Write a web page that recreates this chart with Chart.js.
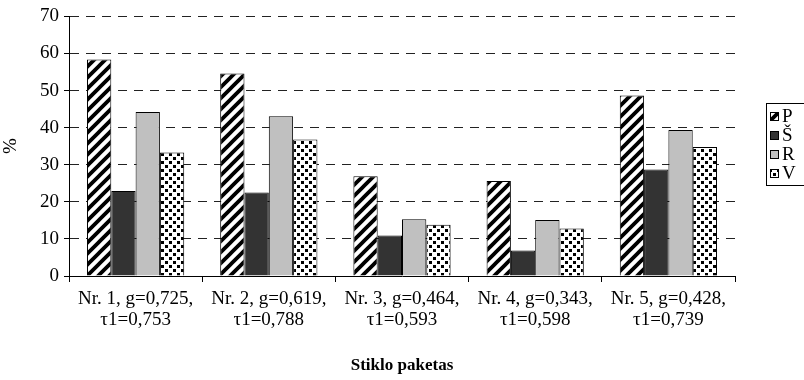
<!DOCTYPE html>
<html>
<head>
<meta charset="utf-8">
<script src="https://cdn.jsdelivr.net/npm/chart.js@4/dist/chart.umd.min.js"></script>
<style>
  html, body { margin: 0; padding: 0; background: #fff; }
  #wrap { width: 804px; height: 380px; }
</style>
</head>
<body>
<div id="wrap"><canvas id="miGrafica" width="804" height="380"></canvas></div>
<script>
// Kategorijos (stiklo paketai)
const kategorijos = [
    ['Nr. 1, g=0,725,', 'τ1=0,753'],
    ['Nr. 2, g=0,619,', 'τ1=0,788'],
    ['Nr. 3, g=0,464,', 'τ1=0,593'],
    ['Nr. 4, g=0,343,', 'τ1=0,598'],
    ['Nr. 5, g=0,428,', 'τ1=0,739']
];
const serijos = ['P', 'Š', 'R', 'V'];
const duomenysP = [58.4, 54.6, 26.9, 25.6, 48.7];
const duomenysS = [22.9, 22.5, 10.9, 6.9, 28.7];
const duomenysR = [44.2, 43.1, 15.3, 15.1, 39.4];
const duomenysV = [33.3, 36.8, 13.8, 12.8, 34.8];
const yTicks = [0, 10, 20, 30, 40, 50, 60, 70];

const SRIFTAS = '"Liberation Serif", "Times New Roman", serif';

// juostu rasto sablonai
function istrizas() {
    const c = document.createElement('canvas');
    c.width = 11; c.height = 11;
    const g = c.getContext('2d');
    g.fillStyle = '#fff'; g.fillRect(0, 0, 11, 11);
    g.strokeStyle = '#000'; g.lineWidth = 3.8;
    g.beginPath();
    g.moveTo(-2, 13); g.lineTo(13, -2);
    g.moveTo(-8, 8); g.lineTo(8, -8);
    g.moveTo(3, 19); g.lineTo(19, 3);
    g.stroke();
    return g.createPattern(c, 'repeat');
}
function taskuotas() {
    const c = document.createElement('canvas');
    c.width = 8; c.height = 8;
    const g = c.getContext('2d');
    g.fillStyle = '#fff'; g.fillRect(0, 0, 8, 8);
    g.fillStyle = '#000';
    g.fillRect(1, 1, 3, 3);
    g.fillRect(5, 5, 3, 3);
    return g.createPattern(c, 'repeat');
}

const ctx = document.getElementById('miGrafica').getContext('2d');
const spalvos = [istrizas(), '#333333', '#c0c0c0', taskuotas()];

// legenda su remeliu desineje
const legendaPlugin = {
    id: 'legenda',
    afterDraw(chart) {
        const c = chart.ctx;
        c.save();
        c.strokeStyle = '#000'; c.lineWidth = 1;
        c.strokeRect(766.5, 103.5, 60, 82);
        c.font = '19px ' + SRIFTAS;
        c.textBaseline = 'middle';
        chart.data.datasets.forEach((ds, i) => {
            const y = 116 + i * 19;
            c.fillStyle = ds.backgroundColor;
            c.fillRect(770, y - 4, 9, 9);
            c.strokeStyle = '#000';
            c.strokeRect(770.5, y - 3.5, 8, 8);
            c.fillStyle = '#000';
            c.fillText(ds.label, 782, y + 1);
        });
        c.restore();
    }
};

const duomenys = [duomenysP, duomenysS, duomenysR, duomenysV];

new Chart(ctx, {
    type: 'bar',
    data: {
        labels: kategorijos,
        datasets: serijos.map((s, i) => ({
            label: s,
            data: duomenys[i],
            backgroundColor: spalvos[i],
            borderColor: '#000',
            borderWidth: 1,
            categoryPercentage: 0.73,
            barPercentage: 1
        }))
    },
    options: {
        responsive: false,
        animation: false,
        layout: { padding: { top: 14, right: 69, bottom: 0, left: 0 } },
        plugins: { legend: { display: false }, tooltip: { enabled: false } },
        scales: {
            x: {
                afterFit: s => { s.height = 104; },
                grid: { drawOnChartArea: false, drawTicks: true, tickLength: 6, color: '#000', tickColor: '#000' },
                border: { color: '#000', width: 1 },
                ticks: { color: '#000', padding: 7, maxRotation: 0, autoSkip: false, font: { family: SRIFTAS, size: 19, lineHeight: 1.1 } },
                title: {
                    display: true, text: 'Stiklo paketas', color: '#000',
                    font: { family: SRIFTAS, size: 17, weight: 'bold' },
                    padding: { top: 0, bottom: 4 }
                }
            },
            y: {
                min: 0, max: 70,
                afterFit: s => { s.width = 69; },
                afterBuildTicks: s => { s.ticks = yTicks.map(v => ({ value: v })); },
                grid: { color: '#222', tickColor: '#000', tickLength: 5, tickBorderDash: [] },
                border: { color: '#000', width: 1, dash: [9, 7] },
                ticks: { color: '#000', padding: 5, font: { family: SRIFTAS, size: 19 } },
                title: {
                    display: true, text: '%', color: '#000',
                    font: { family: SRIFTAS, size: 19 },
                    padding: { top: 0, bottom: 0 }
                }
            }
        }
    },
    plugins: [legendaPlugin]
});
</script>
</body>
</html>
